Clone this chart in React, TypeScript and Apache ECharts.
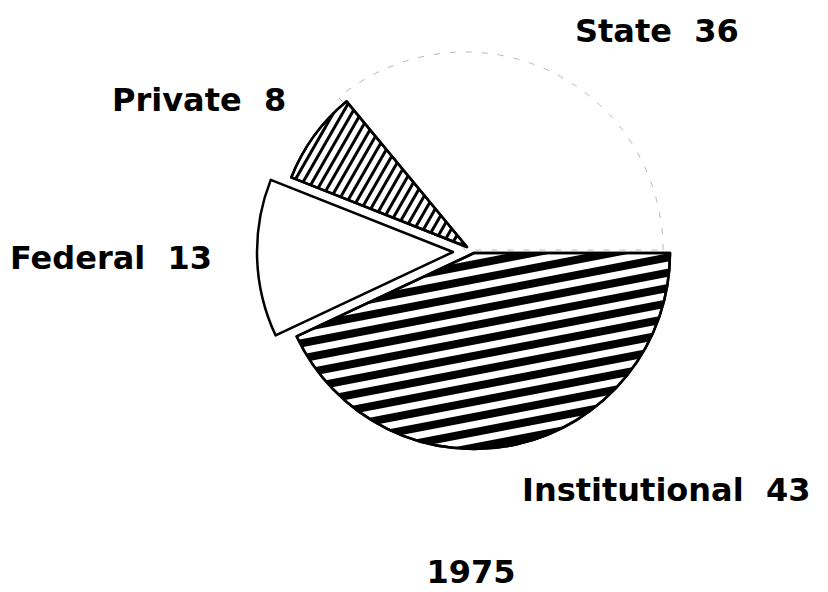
import React, { useEffect, useRef } from 'react';
import * as echarts from 'echarts';

// ---- data ----
const categories = ['State', 'Private', 'Federal', 'Institutional'];
const values = [36, 8, 13, 43];
const yearTitle = '1975';

// ---- layout (not data) ----
const baseCenter = [465, 250];
const sliceOffsets = [
  [0, 0],
  [2, -3],
  [-12, 2],
  [9, 3],
];
const sliceRadius = [198, 189, 196, 196];
const labelPos = [
  [575, 31],
  [112, 100],
  [10, 258],
  [522, 490],
];
const titlePos = [471, 572];

const FONT = '"DejaVu Sans", Verdana, sans-serif';

const sliceStyles: any[] = [
  { color: '#ffffff', borderColor: '#b8b8b8', borderWidth: 1, borderType: [6, 10] },
  {
    color: '#ffffff',
    borderColor: '#000',
    borderWidth: 2.5,
    decal: {
      symbol: 'rect',
      symbolSize: 1,
      color: '#000',
      dashArrayX: [1, 0],
      dashArrayY: [3, 5],
      rotation: -1.05,
    },
  },
  { color: '#ffffff', borderColor: '#000', borderWidth: 2.5 },
  {
    color: '#ffffff',
    borderColor: '#000',
    borderWidth: 2.5,
    decal: {
      symbol: 'rect',
      symbolSize: 1,
      color: '#000',
      dashArrayX: [1, 0],
      dashArrayY: [8, 7],
      rotation: -0.19,
    },
  },
];

export default function App() {
  const ref = useRef<HTMLDivElement>(null);

  useEffect(() => {
    if (!ref.current) return;
    const chart = echarts.init(ref.current, null, { renderer: 'svg' });

    const series = categories.map((_, i) => ({
      type: 'pie',
      center: [baseCenter[0] + sliceOffsets[i][0], baseCenter[1] + sliceOffsets[i][1]],
      radius: sliceRadius[i],
      startAngle: 0,
      clockwise: false,
      silent: true,
      avoidLabelOverlap: false,
      label: { show: false },
      labelLine: { show: false },
      emphasis: { disabled: true },
      z: i + 1,
      data: categories.map((name, j) => ({
        name,
        value: values[j],
        itemStyle:
          j === i
            ? sliceStyles[i]
            : { color: 'rgba(0,0,0,0)', borderWidth: 0, opacity: 0 },
      })),
    }));

    const labels: any[] = categories.map((name, i) => ({
      type: 'text',
      x: labelPos[i][0],
      y: labelPos[i][1],
      silent: true,
      style: {
        text: `${name}  ${values[i]}`,
        fill: '#000',
        font: `bold 32px ${FONT}`,
        align: 'left',
        verticalAlign: 'middle',
      },
    }));
    labels.push({
      type: 'text',
      x: titlePos[0],
      y: titlePos[1],
      silent: true,
      style: {
        text: yearTitle,
        fill: '#000',
        font: `bold 32px ${FONT}`,
        align: 'center',
        verticalAlign: 'middle',
      },
    });

    chart.setOption({
      animation: false,
      backgroundColor: '#ffffff',
      series,
      graphic: labels,
    });

    return () => chart.dispose();
  }, []);

  return <div ref={ref} style={{ width: 828, height: 592, margin: -8 }} />;
}
